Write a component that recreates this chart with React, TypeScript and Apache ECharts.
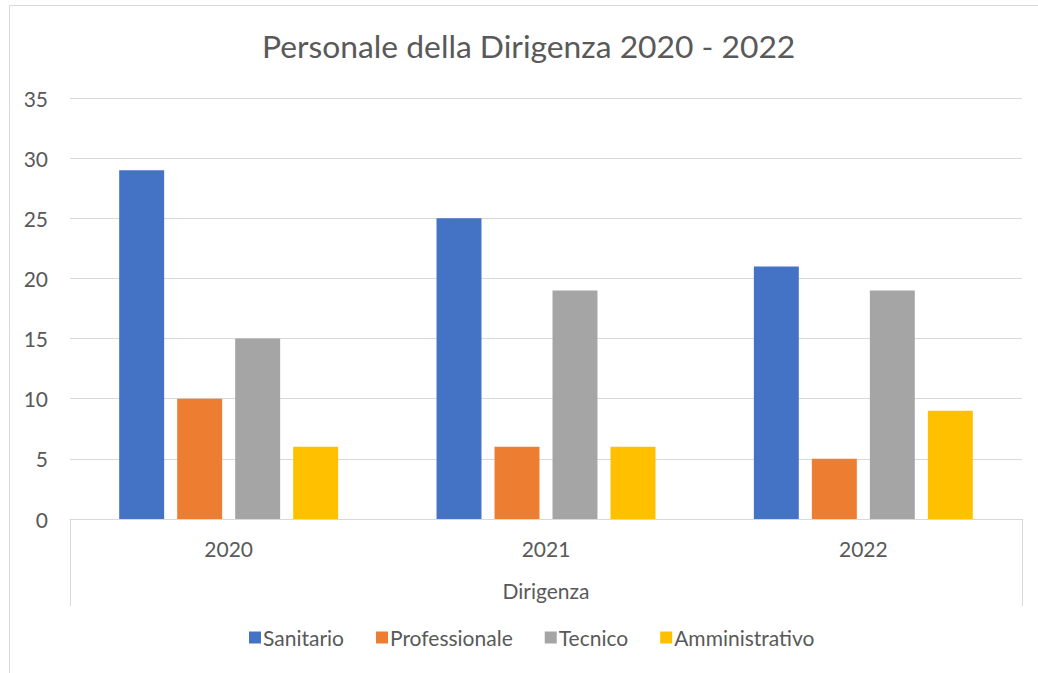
import React, { useEffect, useRef } from "react";
import * as echarts from "echarts";

const categories = ["2020", "2021", "2022"];
const seriesNames = ["Sanitario", "Professionale", "Tecnico", "Amministrativo"];
const sanitario = [29, 25, 21];
const professionale = [10, 6, 5];
const tecnico = [15, 19, 19];
const amministrativo = [6, 6, 9];
const colors = ["#4472C4", "#ED7D31", "#A5A5A5", "#FFC000"];

const FONT = "Lato, 'Open Sans', sans-serif";
const TXT = "#595959";

export default function App() {
  const ref = useRef<HTMLDivElement>(null);
  useEffect(() => {
    document.body.style.margin = "0";
    const chart = echarts.init(ref.current!, null, { renderer: "svg" });
    const values = [sanitario, professionale, tecnico, amministrativo];
    chart.setOption({
      animation: false,
      color: colors,
      title: {
        text: "Personale della Dirigenza 2020 - 2022",
        left: 257,
        top: 25,
        textStyle: { fontFamily: FONT, fontSize: 31.8, fontWeight: "normal", color: TXT },
      },
      grid: { left: 70, right: 16, top: 98, bottom: 154, containLabel: false },
      legend: {
        bottom: 20,
        left: 244,
        icon: "rect",
        itemWidth: 12,
        itemHeight: 12,
        itemGap: 32,
        textStyle: { fontFamily: FONT, fontSize: 21, color: TXT, padding: [0, 0, 0, -3] },
        data: seriesNames,
      },
      xAxis: {
        type: "category",
        data: categories,
        name: "Dirigenza",
        nameLocation: "middle",
        nameGap: 61,
        nameTextStyle: { fontFamily: FONT, fontSize: 21, color: TXT },
        axisLine: { show: true, lineStyle: { color: "#D9D9D9", width: 1 } },
        axisTick: { show: false },
        axisLabel: { margin: 19, fontFamily: FONT, fontSize: 21, color: TXT },
      },
      yAxis: {
        type: "value",
        min: 0,
        max: 35,
        interval: 5,
        axisLine: { show: false },
        axisTick: { show: false },
        axisLabel: { margin: 22, fontFamily: FONT, fontSize: 21, color: TXT },
        splitLine: { lineStyle: { color: "#D9D9D9", width: 1 } },
      },
      graphic: [
        { type: "line", shape: { x1: 9.5, y1: 5.5, x2: 1040, y2: 5.5 }, style: { stroke: "#D9D9D9", lineWidth: 1 } },
        { type: "line", shape: { x1: 9.5, y1: 5.5, x2: 9.5, y2: 680 }, style: { stroke: "#D9D9D9", lineWidth: 1 } },
        { type: "line", shape: { x1: 70.5, y1: 519, x2: 70.5, y2: 606 }, style: { stroke: "#D9D9D9", lineWidth: 1 } },
        { type: "line", shape: { x1: 1022.5, y1: 519, x2: 1022.5, y2: 606 }, style: { stroke: "#D9D9D9", lineWidth: 1 } },
      ],
      series: seriesNames.map((name, i) => ({
        name,
        type: "bar",
        data: values[i],
        barGap: "29%",
        barCategoryGap: "31%",
        itemStyle: { color: colors[i] },
      })),
    });
    return () => chart.dispose();
  }, []);
  return <div ref={ref} style={{ width: 1038, height: 673, position: "absolute", left: 0, top: 0 }} />;
}
